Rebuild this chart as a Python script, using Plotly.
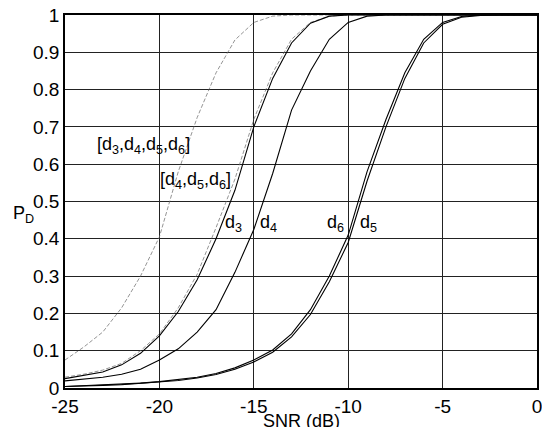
import plotly.graph_objects as go

snr = list(range(-25, 1))

pd_d3456 = [0.075, 0.11, 0.15, 0.215, 0.30, 0.405, 0.58, 0.725, 0.845, 0.933, 0.98, 0.997,
            1, 1, 1, 1, 1, 1, 1, 1, 1, 1, 1, 1, 1, 1]
pd_d456 = [0.029, 0.037, 0.048, 0.066, 0.10, 0.145, 0.215, 0.305, 0.43, 0.56, 0.72, 0.845, 0.935,
           0.98, 0.997, 1, 1, 1, 1, 1, 1, 1, 1, 1, 1, 1]
pd_d3 = [0.025, 0.033, 0.043, 0.062, 0.093, 0.14, 0.205, 0.29, 0.40, 0.53, 0.70, 0.83, 0.925,
         0.978, 0.997, 1, 1, 1, 1, 1, 1, 1, 1, 1, 1, 1]
pd_d4 = [0.019, 0.023, 0.029, 0.037, 0.05, 0.075, 0.105, 0.15, 0.21, 0.31, 0.425, 0.575, 0.745,
         0.85, 0.935, 0.98, 0.997, 1, 1, 1, 1, 1, 1, 1, 1, 1]
pd_d6 = [0.004, 0.006, 0.008, 0.010, 0.013, 0.017, 0.022, 0.029, 0.039, 0.054, 0.075, 0.102, 0.145,
         0.21, 0.30, 0.41, 0.58, 0.72, 0.845, 0.935, 0.98, 0.996, 1, 1, 1, 1]
pd_d5 = [0.004, 0.005, 0.007, 0.009, 0.012, 0.016, 0.020, 0.027, 0.036, 0.050, 0.070, 0.096, 0.137,
         0.197, 0.285, 0.39, 0.555, 0.70, 0.83, 0.925, 0.975, 0.994, 0.999, 1, 1, 1]

x_ticks = [-25, -20, -15, -10, -5, 0]
x_tick_text = ["-25", "-20", "-15", "-10", "-5", "0"]
y_ticks = [0, 0.1, 0.2, 0.3, 0.4, 0.5, 0.6, 0.7, 0.8, 0.9, 1]
y_tick_text = ["0", "0.1", "0.2", "0.3", "0.4", "0.5", "0.6", "0.7", "0.8", "0.9", "1"]

labels = [
    ("[d<sub>3</sub>,d<sub>4</sub>,d<sub>5</sub>,d<sub>6</sub>]", -20.85, 0.650),
    ("[d<sub>4</sub>,d<sub>5</sub>,d<sub>6</sub>]", -18.1, 0.557),
    ("d<sub>3</sub>", -16.05, 0.442),
    ("d<sub>4</sub>", -14.2, 0.442),
    ("d<sub>6</sub>", -10.65, 0.442),
    ("d<sub>5</sub>", -8.95, 0.442),
]

FONT = "Liberation Sans, Arial, sans-serif"

fig = go.Figure()
fig.add_trace(go.Scatter(x=snr, y=pd_d3456, mode="lines",
                         line=dict(color="#666666", width=0.7, dash="4px,2px")))
fig.add_trace(go.Scatter(x=snr, y=pd_d456, mode="lines",
                         line=dict(color="#666666", width=0.7, dash="4px,2px")))
for ys in (pd_d3, pd_d4, pd_d6, pd_d5):
    fig.add_trace(go.Scatter(x=snr, y=ys, mode="lines", line=dict(color="black", width=1.1)))

for txt, xv, yv in labels:
    fig.add_annotation(x=xv, y=yv, xref="x", yref="y", text=txt, showarrow=False,
                       font=dict(family=FONT, size=18, color="black"))

fig.add_annotation(x=-0.114, y=0.465, xref="paper", yref="paper", text="P<sub>D</sub>",
                   xanchor="left", showarrow=False,
                   font=dict(family=FONT, size=18, color="black"))

fig.add_annotation(x=0.5, y=-0.055, xref="paper", yref="paper", text="SNR (dB)",
                   showarrow=False, yanchor="top", font=dict(family=FONT, size=18, color="black"))

fig.update_layout(
    width=542, height=427,
    margin=dict(l=65, r=5, t=15, b=39),
    paper_bgcolor="white", plot_bgcolor="white",
    showlegend=False,
    font=dict(family=FONT, size=19, color="black"),
    xaxis=dict(range=[-25, 0], tickvals=x_ticks, ticktext=x_tick_text, showgrid=True,
               gridcolor="#222222", gridwidth=1,
               zeroline=False, showline=True, linecolor="black", linewidth=1.5, mirror=True,
               ticks="", tickfont=dict(size=19), automargin=False, ticklabeloverflow="allow"),
    yaxis=dict(range=[0, 1], tickvals=y_ticks, ticktext=y_tick_text, showgrid=True,
               gridcolor="#222222", gridwidth=1, zeroline=False, showline=True,
               linecolor="black", linewidth=1.5, mirror=True, ticks="", tickfont=dict(size=19),
               automargin=False, ticklabeloverflow="allow"),
)

fig.write_html("out.html", config={"displayModeBar": False},
               post_script="document.body.style.margin='0';document.body.style.overflow='hidden';")
